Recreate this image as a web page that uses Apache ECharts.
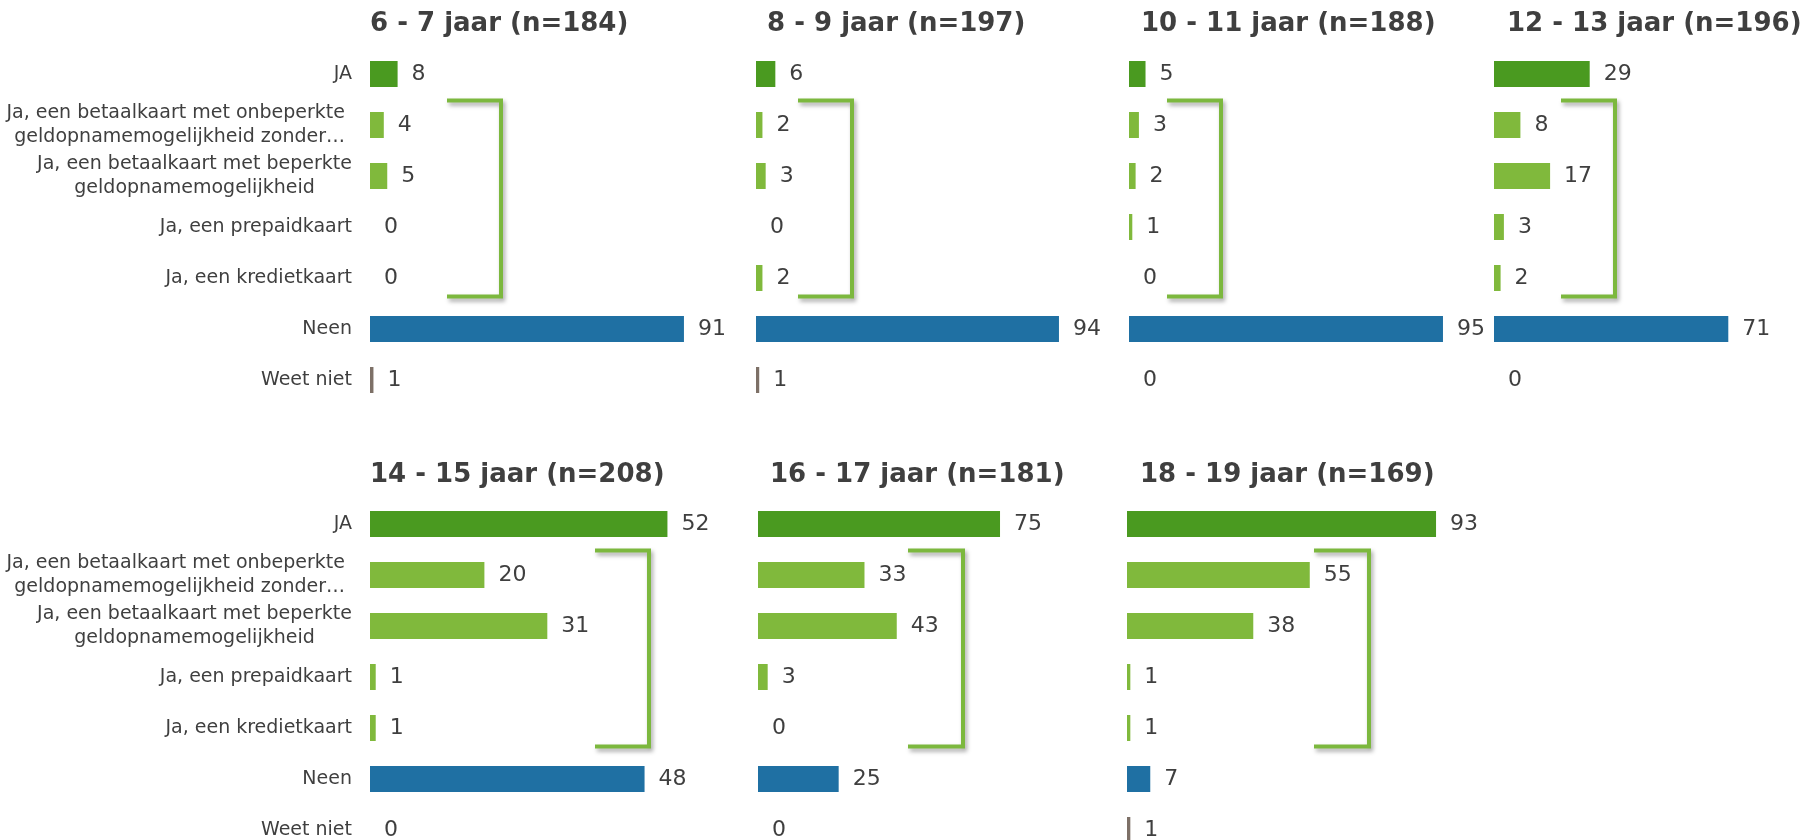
<!DOCTYPE html>
<html>
<head>
<meta charset="utf-8">
<script src="https://cdn.jsdelivr.net/npm/echarts@6/dist/echarts.min.js"></script>
<style>html,body{margin:0;padding:0;background:#fff;}#c{width:1806px;height:840px;}</style>
</head>
<body>
<div id="c"></div>
<script>
// ---- data ----
const categories = ['JA', 'Ja, een betaalkaart met onbeperkte geldopnamemogelijkheid zonder…', 'Ja, een betaalkaart met beperkte geldopnamemogelijkheid', 'Ja, een prepaidkaart', 'Ja, een kredietkaart', 'Neen', 'Weet niet'];
const panelTitles = ['6 - 7 jaar (n=184)', '8 - 9 jaar (n=197)', '10 - 11 jaar (n=188)', '12 - 13 jaar (n=196)', '14 - 15 jaar (n=208)', '16 - 17 jaar (n=181)', '18 - 19 jaar (n=169)'];
const v6_7   = [8, 4, 5, 0, 0, 91, 1];
const v8_9   = [6, 2, 3, 0, 2, 94, 1];
const v10_11 = [5, 3, 2, 1, 0, 95, 0];
const v12_13 = [29, 8, 17, 3, 2, 71, 0];
const v14_15 = [52, 20, 31, 1, 1, 48, 0];
const v16_17 = [75, 33, 43, 3, 0, 25, 0];
const v18_19 = [93, 55, 38, 1, 1, 7, 1];
const panelValues = [v6_7, v8_9, v10_11, v12_13, v14_15, v16_17, v18_19];

// ---- layout / style ----
const catColors = ['#4a9a20', '#80b93c', '#80b93c', '#80b93c', '#80b93c', '#1f70a3', '#7d7067'];
const TEXT = '#3f3f3f';
const FONT = 'DejaVu Sans';
const layout = [
  { left: 370,  top: 48.5,  ppu: 3.45,  titleLeft: 370,  titleTop: 11.5, labels: true,  brL: 447,  brR: 501 },
  { left: 756,  top: 48.5,  ppu: 3.223, titleLeft: 767,  titleTop: 11.5, labels: false, brL: 798,  brR: 852 },
  { left: 1129, top: 48.5,  ppu: 3.305, titleLeft: 1141, titleTop: 11.5, labels: false, brL: 1167, brR: 1221 },
  { left: 1494, top: 48.5,  ppu: 3.30,  titleLeft: 1507, titleTop: 11.5, labels: false, brL: 1561, brR: 1615 },
  { left: 370,  top: 498.5, ppu: 5.72,  titleLeft: 370,  titleTop: 462,  labels: true,  brL: 595,  brR: 649 },
  { left: 758,  top: 498.5, ppu: 3.227, titleLeft: 770,  titleTop: 462,  labels: false, brL: 908,  brR: 963 },
  { left: 1127, top: 498.5, ppu: 3.323, titleLeft: 1140, titleTop: 462,  labels: false, brL: 1314, brR: 1369 }
];
const rowH = 51;
const LBL = 19;

const chart = echarts.init(document.getElementById('c'), null, { renderer: 'canvas' });

const grids = [], xAxes = [], yAxes = [], series = [], titles = [];
layout.forEach((L, i) => {
  grids.push({ left: L.left, top: L.top, width: L.ppu * 100, height: rowH * categories.length, containLabel: false, outerBoundsMode: 'none' });
  xAxes.push({ type: 'value', gridIndex: i, min: 0, max: 100, show: false });
  yAxes.push({
    type: 'category', gridIndex: i, data: categories, inverse: true,
    axisLine: { show: false }, axisTick: { show: false }, splitLine: { show: false },
    axisLabel: {
      show: L.labels, interval: 0, margin: 18, color: TEXT, fontFamily: FONT, fontSize: LBL, lineHeight: 24,
      formatter: function (v, idx) {
        if (idx === 1) return '{a|Ja, een betaalkaart met onbeperkte}\n{a|geldopnamemogelijkheid zonder…}';
        if (idx === 2) return '{c|Ja, een betaalkaart met beperkte}\n{c|geldopnamemogelijkheid}';
        return v;
      },
      rich: {
        a: { align: 'right', padding: [0, 7, 0, 0], color: TEXT, fontFamily: FONT, fontSize: LBL, lineHeight: 24 },
        c: { align: 'center', color: TEXT, fontFamily: FONT, fontSize: LBL, lineHeight: 24 }
      }
    }
  });
  series.push({
    type: 'bar', xAxisIndex: i, yAxisIndex: i, barWidth: 26,
    data: panelValues[i].map((v, k) => ({ value: v, itemStyle: { color: catColors[k] } })),
    label: { show: true, position: 'right', distance: 14, color: TEXT, fontFamily: FONT, fontSize: 22 },
    silent: true, animation: false
  });
  titles.push({
    text: panelTitles[i], left: L.titleLeft, top: L.titleTop, padding: 0,
    textStyle: { color: TEXT, fontFamily: FONT, fontSize: 26, fontWeight: 'bold' }
  });
});

chart.setOption({
  backgroundColor: '#ffffff',
  animation: false,
  title: titles,
  grid: grids, xAxis: xAxes, yAxis: yAxes, series: series
});

// bracket annotations grouping the "Ja, een ..." sub-answers
const graphics = layout.map((L, i) => {
  const yTop = chart.convertToPixel({ gridIndex: i }, [0, 1])[1] - 24.5;
  const yBot = chart.convertToPixel({ gridIndex: i }, [0, 4])[1] + 18.5;
  return {
    type: 'polyline', silent: true,
    shape: { points: [[L.brL, yTop], [L.brR, yTop], [L.brR, yBot], [L.brL, yBot]] },
    style: {
      stroke: '#7cb83e', lineWidth: 4, fill: null, lineJoin: 'miter',
      shadowBlur: 4, shadowColor: 'rgba(0,0,0,0.35)', shadowOffsetX: 2, shadowOffsetY: 3
    }
  };
});
chart.setOption({ graphic: graphics });
</script>
</body>
</html>
